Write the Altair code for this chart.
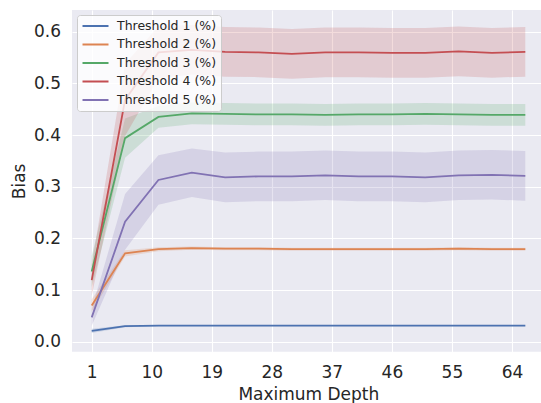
import altair as alt
import pandas as pd

# Maximum tree depth values evaluated
depth = [1, 6, 11, 16, 21, 26, 31, 36, 41, 46, 51, 56, 61, 66]

series_names = [
    "Threshold 1 (%)",
    "Threshold 2 (%)",
    "Threshold 3 (%)",
    "Threshold 4 (%)",
    "Threshold 5 (%)",
]

# Mean bias per depth for each threshold
bias_t1 = [0.021, 0.030, 0.031, 0.031, 0.031, 0.031, 0.031, 0.031, 0.031, 0.031, 0.031, 0.031, 0.031, 0.031]
bias_t2 = [0.070, 0.171, 0.179, 0.181, 0.180, 0.180, 0.179, 0.179, 0.179, 0.179, 0.179, 0.180, 0.179, 0.179]
bias_t3 = [0.136, 0.394, 0.435, 0.442, 0.441, 0.440, 0.440, 0.439, 0.440, 0.440, 0.441, 0.440, 0.439, 0.439]
bias_t4 = [0.119, 0.468, 0.560, 0.565, 0.561, 0.560, 0.557, 0.560, 0.560, 0.559, 0.559, 0.562, 0.559, 0.561]
bias_t5 = [0.047, 0.232, 0.313, 0.327, 0.318, 0.320, 0.320, 0.322, 0.320, 0.320, 0.318, 0.322, 0.323, 0.321]

# Half-width of the confidence band per depth for each threshold
ci_t1 = [0.004, 0.002, 0.001, 0.001, 0.001, 0.001, 0.001, 0.001, 0.001, 0.001, 0.001, 0.001, 0.001, 0.001]
ci_t2 = [0.012, 0.006, 0.004, 0.003, 0.003, 0.003, 0.003, 0.003, 0.003, 0.003, 0.003, 0.003, 0.003, 0.003]
ci_t3 = [0.030, 0.038, 0.021, 0.021, 0.021, 0.021, 0.021, 0.021, 0.021, 0.021, 0.021, 0.021, 0.021, 0.021]
ci_t4 = [0.030, 0.070, 0.050, 0.048, 0.048, 0.048, 0.048, 0.048, 0.048, 0.048, 0.048, 0.048, 0.048, 0.048]
ci_t5 = [0.016, 0.054, 0.048, 0.047, 0.048, 0.048, 0.048, 0.048, 0.048, 0.048, 0.048, 0.048, 0.048, 0.048]

palette = ["#4c72b0", "#dd8452", "#55a868", "#c44e52", "#8172b3"]
x_ticks = [1, 10, 19, 28, 37, 46, 55, 64]
y_ticks = [0.0, 0.1, 0.2, 0.3, 0.4, 0.5, 0.6]

rows = []
for name, means, cis in zip(
    series_names,
    [bias_t1, bias_t2, bias_t3, bias_t4, bias_t5],
    [ci_t1, ci_t2, ci_t3, ci_t4, ci_t5],
):
    for d, m, c in zip(depth, means, cis):
        rows.append({"series": name, "depth": d, "bias": m, "lo": m - c, "hi": m + c})
df = pd.DataFrame(rows)

FONT = "DejaVu Sans"
TEXT = "#262626"

x_enc = alt.X(
    "depth:Q",
    scale=alt.Scale(domain=[-1.955, 68.35], nice=False, zero=False),
    axis=alt.Axis(
        title="Maximum Depth",
        values=x_ticks,
        labelFontSize=17,
        labelBaseline="alphabetic",
        labelPadding=26,
        tickSize=0,
        titleFontSize=17,
        titleFontWeight="normal",
        titleX=236.3,
        titleY=47.6,
        titleAnchor="start",
        titleAlign="center",
        titleBaseline="alphabetic",
        minExtent=51,
        maxExtent=51,
    ),
)

y_scale = alt.Scale(domain=[-0.0194, 0.642], nice=False, zero=False)
y_axis = alt.Axis(
    title="Bias",
    values=y_ticks,
    format=".1f",
    labelFontSize=17,
    labelPadding=11.5,
    tickSize=0,
    titleFontSize=17,
    titleFontWeight="normal",
    titleAngle=270,
    titleX=-47.3,
    titleY=170.85,
    titleAlign="center",
    titleAnchor="start",
    titleBaseline="alphabetic",
    minExtent=72,
    maxExtent=72,
)

color_scale = alt.Scale(domain=series_names, range=palette)

bands = alt.Chart(df).mark_area(opacity=0.2, clip=True).encode(
    x=x_enc,
    y=alt.Y("lo:Q", scale=y_scale, axis=y_axis),
    y2="hi:Q",
    color=alt.Color("series:N", scale=color_scale, legend=None),
    detail="series:N",
)

lines = alt.Chart(df).mark_line(strokeWidth=1.8, clip=True).encode(
    x=x_enc,
    y=alt.Y("bias:Q", scale=y_scale, axis=y_axis),
    color=alt.Color(
        "series:N",
        scale=color_scale,
        sort=series_names,
        legend=alt.Legend(
            title=None,
            orient="none",
            legendX=5,
            legendY=5,
            symbolType="stroke",
            symbolSize=676,
            symbolStrokeWidth=1.8,
            clipHeight=13,
            labelFontSize=12.5,
            labelFont=FONT,
            labelColor=TEXT,
            labelOffset=7.5,
            rowPadding=5.5,
            padding=4.5,
            fillColor="rgba(255,255,255,0.8)",
            strokeColor="#cccccc",
            cornerRadius=3,
        ),
    ),
)

chart = (
    alt.layer(bands, lines)
    .resolve_legend(color="independent")
    .properties(
        width=469,
        height=341.7,
        padding={"left": 0, "top": 10, "right": 0, "bottom": 0},
        background="white",
    )
    .configure_view(fill="#eaeaf2", stroke=None)
    .configure_axis(
        domain=False,
        ticks=False,
        grid=True,
        gridColor="white",
        gridWidth=1.1,
        labelFont=FONT,
        titleFont=FONT,
        labelColor=TEXT,
        titleColor=TEXT,
    )
)

chart.save("out.html", embed_options={"renderer": "svg", "actions": False})
